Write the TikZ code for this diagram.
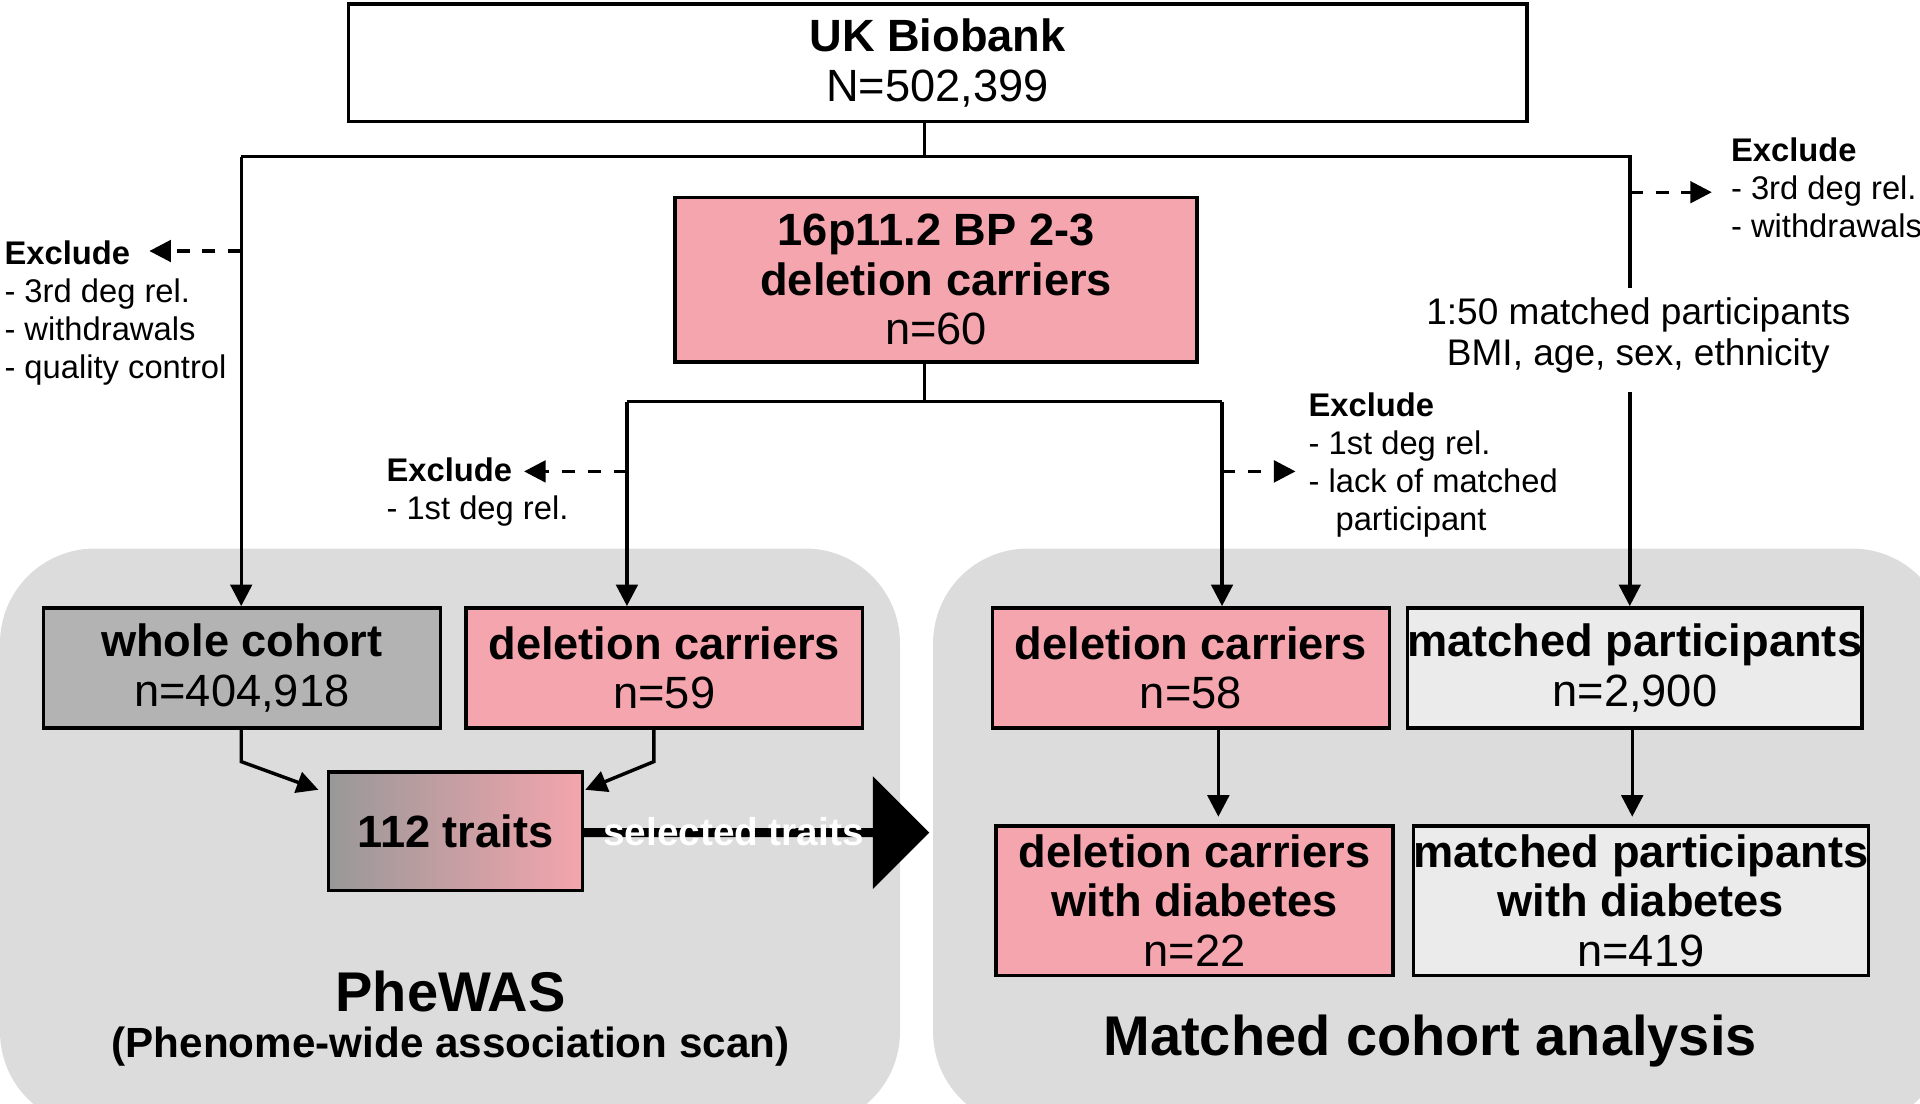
\documentclass[tikz,border=0pt]{standalone}
\usepackage{fontspec}
\setmainfont{Liberation Sans}
\setsansfont{Liberation Sans}
\usetikzlibrary{arrows.meta,positioning,calc,shapes.arrows}
\definecolor{DelPink}{HTML}{F4A5AD}
\definecolor{PanelGray}{HTML}{DCDCDC}
\definecolor{CohGray}{HTML}{B3B3B3}
\definecolor{MatGray}{HTML}{EBEBEB}
\begin{document}
\begin{tikzpicture}[x=0.01cm,y=-0.01cm,
        every node/.style={font=\sffamily},
        box/.style = {rectangle, draw, thick, inner sep=0pt, anchor=north west,
            align=center, font=\sffamily\fontsize{10.5}{11.5}\selectfont},
        excl/.style = {align=left, anchor=north west, inner sep=0pt,
            font=\sffamily\fontsize{7.6}{8.8}\selectfont},
        line/.style = {thick},
        arr/.style = {thick, -{Triangle[length=5pt,width=5pt]}},
        dsharr/.style = {thick, dashed, -{Triangle[length=5pt,width=5pt]}},
    ]
    \useasboundingbox (0,0) rectangle (1568,901);
    % panels
    \fill[PanelGray, rounded corners=22pt] (0,448) rectangle (735,920);
    \fill[PanelGray, rounded corners=22pt] (762,448) rectangle (1590,920);
    % boxes
    \node[box, minimum width=9.62cm, minimum height=0.96cm] (ukb) at (283,2)
        {\textbf{UK Biobank}\\N=502,399};
    \node[box, fill=DelPink, minimum width=4.26cm, minimum height=1.34cm] (del) at (550,160)
        {\textbf{16p11.2 BP 2-3}\\\textbf{deletion carriers}\\n=60};
    \node[box, fill=CohGray, minimum width=3.24cm, minimum height=0.98cm] (whole) at (34,495)
        {\textbf{whole cohort}\\n=404,918};
    \node[box, fill=DelPink, minimum width=3.24cm, minimum height=0.98cm] (delA) at (379,495)
        {\textbf{deletion carriers}\\n=59};
    \node[box, fill=DelPink, minimum width=3.24cm, minimum height=0.98cm] (delB) at (809,495)
        {\textbf{deletion carriers}\\n=58};
    \node[box, fill=MatGray, minimum width=3.71cm, minimum height=0.98cm] (match) at (1148,495)
        {\textbf{matched participants}\\n=2,900};
    \node[box, fill=DelPink, minimum width=3.24cm, minimum height=1.22cm] (delD) at (812,673)
        {\textbf{deletion carriers}\\\textbf{with diabetes}\\n=22};
    \node[box, fill=MatGray, minimum width=3.71cm, minimum height=1.22cm] (matchD) at (1153,673)
        {\textbf{matched participants}\\\textbf{with diabetes}\\n=419};
    \node[box, left color=CohGray!85!black, right color=DelPink, minimum width=2.07cm,
        minimum height=0.97cm] (traits) at (267,629) {\textbf{112 traits}};
    % big arrow
    \node[single arrow, fill=black, anchor=west, minimum height=2.84cm, minimum width=0.92cm,
        single arrow head extend=0.08cm, inner sep=0pt, single arrow tip angle=90,
        text=white] (sel) at (474,680) {};
    \node[text=white, font=\sffamily\bfseries\fontsize{9}{10}\selectfont] (selT) at (599,679)
        {selected traits};
    % connectors
    \coordinate (top) at (755,128);
    \coordinate (lefttop) at (197,128);
    \coordinate (righttop) at (1331,128);
    \coordinate (rightgap) at (1331,235);
    \coordinate (rightres) at (1331,320);
    \draw[line] (ukb.south -| top) -- (top);
    \draw[line] (rightgap) -- (righttop) -- (lefttop);
    \draw[arr] (lefttop) -- (lefttop |- whole.north);
    \draw[arr] (rightres) -- (rightres |- match.north);
    \coordinate (mid) at (755,328);
    \coordinate (midL) at (512,328);
    \coordinate (midR) at (998,328);
    \draw[line] (del.south -| mid) -- (mid);
    \draw[line] (midL) -- (midR);
    \draw[arr] (midL) -- (midL |- delA.north);
    \draw[arr] (midR) -- (midR |- delB.north);
    \draw[arr] (197,593) -- (197,622) -- (260,645);
    \draw[arr] (534,593) -- (534,622) -- (478,645);
    \draw[arr] (995,593) -- (995,667);
    \draw[arr] (1333,593) -- (1333,667);
    % exclusions
    \draw[dsharr] (197,205) -- (122,205);
    \draw[dsharr] (512,385) -- (428,385);
    \draw[dsharr] (998,385) -- (1058,385);
    \draw[dsharr] (1331,157) -- (1398,157);
    \node[excl] (exA) at (3,196) {\textbf{Exclude}\\- 3rd deg rel.\\- withdrawals\\- quality control};
    \node[excl] (exB) at (315,373) {\textbf{Exclude}\\- 1st deg rel.};
    \node[excl] (exC) at (1068,320) {\textbf{Exclude}\\- 1st deg rel.\\- lack of matched\\\hspace*{0.22cm}participant};
    \node[excl] (exD) at (1413,112) {\textbf{Exclude}\\- 3rd deg rel.\\- withdrawals};
    \node[align=center, font=\sffamily\fontsize{8.6}{9.6}\selectfont] (match50) at (1338,274)
        {1:50 matched participants\\BMI, age, sex, ethnicity};
    % panel titles
    \node[font=\sffamily\bfseries\fontsize{13}{15}\selectfont] (phewas) at (368,810) {PheWAS};
    \node[font=\sffamily\bfseries\fontsize{9.8}{11}\selectfont] (phewasB) at (368,855)
        {(Phenome-wide association scan)};
    \node[font=\sffamily\bfseries\fontsize{13}{15}\selectfont] (mca) at (1168,850)
        {Matched cohort analysis};
\end{tikzpicture}
\end{document}
